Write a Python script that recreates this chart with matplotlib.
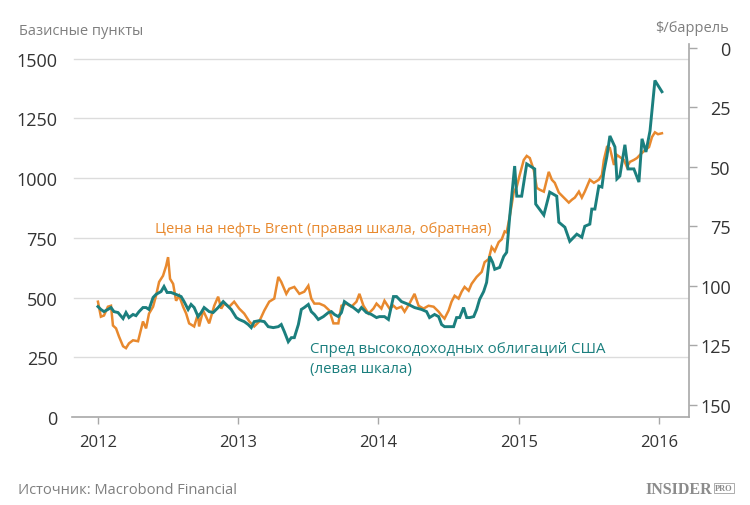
import matplotlib.pyplot as plt
from matplotlib.transforms import blended_transform_factory

plt.rcParams['font.family'] = ['Open Sans', 'DejaVu Sans']

# Brent, $/баррель (правая шкала, обратная)
brent_t = [2012.000, 2012.021, 2012.043, 2012.071, 2012.093, 2012.107, 2012.129, 2012.150, 2012.179, 2012.200,
           2012.221, 2012.250, 2012.286, 2012.321, 2012.343, 2012.364, 2012.393, 2012.414, 2012.436, 2012.464,
           2012.486, 2012.500, 2012.514, 2012.536, 2012.557, 2012.579, 2012.607, 2012.629, 2012.650, 2012.686,
           2012.714, 2012.721, 2012.750, 2012.793, 2012.829, 2012.857, 2012.879, 2012.900, 2012.936, 2012.971,
           2013.007, 2013.043, 2013.079, 2013.114, 2013.150, 2013.186, 2013.221, 2013.257, 2013.286, 2013.307,
           2013.343, 2013.364, 2013.400, 2013.436, 2013.471, 2013.500, 2013.521, 2013.543, 2013.579, 2013.614,
           2013.650, 2013.679, 2013.714, 2013.736, 2013.771, 2013.807, 2013.843, 2013.864, 2013.893, 2013.929,
           2013.964, 2013.986, 2014.021, 2014.043, 2014.079, 2014.107, 2014.129, 2014.164, 2014.186, 2014.221,
           2014.257, 2014.286, 2014.321, 2014.357, 2014.393, 2014.429, 2014.450, 2014.471, 2014.500, 2014.521,
           2014.543, 2014.571, 2014.593, 2014.614, 2014.643, 2014.664, 2014.700, 2014.736, 2014.757, 2014.786,
           2014.807, 2014.829, 2014.857, 2014.879, 2014.900, 2014.914, 2014.936, 2014.964, 2014.986, 2015.007,
           2015.036, 2015.057, 2015.079, 2015.107, 2015.129, 2015.150, 2015.179, 2015.200, 2015.214, 2015.236,
           2015.257, 2015.286, 2015.321, 2015.357, 2015.379, 2015.400, 2015.429, 2015.450, 2015.471, 2015.507,
           2015.536, 2015.571, 2015.593, 2015.607, 2015.629, 2015.650, 2015.679, 2015.700, 2015.721, 2015.750,
           2015.771, 2015.793, 2015.821, 2015.843, 2015.864, 2015.900, 2015.929, 2015.950, 2015.971, 2015.993,
           2016.021]
brent_usd = [106.7, 113.0, 112.5, 108.8, 108.4, 116.7, 117.9, 121.3, 125.4, 126.2,
             124.2, 122.9, 123.3, 115.0, 117.9, 111.7, 108.8, 104.2, 98.4, 95.8,
             91.7, 88.0, 97.1, 99.2, 106.3, 104.2, 108.8, 111.7, 115.8, 117.1,
             111.7, 117.1, 110.4, 115.8, 108.4, 104.6, 109.6, 107.5, 108.8, 106.7,
             109.6, 111.7, 115.0, 117.1, 115.0, 110.4, 106.7, 105.4, 96.3, 98.4,
             103.4, 101.3, 100.5, 103.4, 102.5, 100.0, 105.4, 107.5, 107.5, 108.4,
             110.4, 115.8, 115.8, 108.4, 107.5, 108.8, 106.7, 103.4, 108.4, 111.7,
             109.6, 107.5, 109.6, 106.3, 109.6, 108.4, 109.6, 108.8, 110.9, 107.5,
             103.4, 108.4, 109.6, 108.4, 108.8, 110.9, 112.5, 113.8, 110.4, 106.7,
             104.2, 105.4, 102.5, 100.5, 102.1, 99.2, 96.3, 94.2, 90.1, 88.8,
             83.8, 85.5, 81.7, 80.5, 77.2, 77.6, 70.9, 60.9, 58.4, 53.5,
             47.2, 45.5, 46.4, 51.4, 58.9, 59.7, 60.5, 55.5, 52.2, 55.5,
             56.8, 60.9, 63.0, 65.1, 63.9, 63.0, 60.5, 63.0, 60.5, 55.5,
             56.8, 55.5, 53.5, 47.2, 41.8, 42.2, 49.3, 45.1, 46.0, 47.2,
             50.1, 48.0, 47.2, 46.4, 45.1, 43.1, 41.8, 37.6, 35.6, 36.4,
             36.0]

# Спред высокодоходных облигаций США, б.п. (левая шкала)
spread_t = [2012.000, 2012.021, 2012.043, 2012.071, 2012.093, 2012.114, 2012.143, 2012.179, 2012.200, 2012.221,
            2012.250, 2012.271, 2012.293, 2012.321, 2012.343, 2012.364, 2012.393, 2012.414, 2012.450, 2012.471,
            2012.493, 2012.521, 2012.557, 2012.593, 2012.614, 2012.643, 2012.664, 2012.686, 2012.714, 2012.736,
            2012.757, 2012.793, 2012.821, 2012.857, 2012.893, 2012.914, 2012.950, 2012.986, 2013.007, 2013.043,
            2013.071, 2013.093, 2013.114, 2013.150, 2013.186, 2013.214, 2013.250, 2013.286, 2013.307, 2013.329,
            2013.357, 2013.379, 2013.400, 2013.429, 2013.450, 2013.471, 2013.500, 2013.521, 2013.543, 2013.571,
            2013.607, 2013.643, 2013.664, 2013.686, 2013.714, 2013.736, 2013.757, 2013.786, 2013.821, 2013.857,
            2013.879, 2013.914, 2013.950, 2013.986, 2014.007, 2014.043, 2014.071, 2014.107, 2014.129, 2014.164,
            2014.214, 2014.257, 2014.307, 2014.343, 2014.364, 2014.400, 2014.429, 2014.450, 2014.471, 2014.507,
            2014.536, 2014.557, 2014.579, 2014.607, 2014.629, 2014.650, 2014.679, 2014.700, 2014.721, 2014.750,
            2014.771, 2014.793, 2014.814, 2014.829, 2014.864, 2014.893, 2014.914, 2014.936, 2014.971, 2014.986,
            2015.021, 2015.057, 2015.093, 2015.114, 2015.121, 2015.179, 2015.221, 2015.271, 2015.286, 2015.329,
            2015.364, 2015.414, 2015.450, 2015.471, 2015.507, 2015.521, 2015.543, 2015.571, 2015.593, 2015.607,
            2015.629, 2015.650, 2015.686, 2015.700, 2015.721, 2015.757, 2015.779, 2015.821, 2015.857, 2015.879,
            2015.907, 2015.936, 2015.971, 2016.021]
spread_bp = [462, 450, 441, 450, 458, 441, 437, 412, 437, 416,
             429, 424, 441, 458, 458, 450, 500, 513, 525, 546,
             521, 521, 513, 504, 483, 450, 471, 458, 420, 437,
             458, 441, 437, 458, 483, 471, 450, 416, 408, 399,
             387, 374, 399, 403, 399, 378, 374, 378, 387, 357,
             315, 332, 332, 387, 450, 458, 471, 441, 429, 408,
             420, 437, 441, 429, 420, 437, 483, 471, 458, 441,
             458, 437, 429, 416, 420, 420, 408, 504, 504, 483,
             471, 458, 450, 441, 416, 429, 420, 387, 378, 378,
             378, 416, 416, 458, 416, 416, 420, 450, 492, 525,
             563, 672, 647, 618, 626, 672, 689, 840, 1050, 924,
             924, 1059, 1046, 1038, 891, 845, 941, 924, 815, 794,
             735, 765, 752, 798, 807, 870, 870, 966, 962, 1025,
             1092, 1176, 1130, 996, 1008, 1139, 1038, 1038, 983, 1164,
             1109, 1197, 1408, 1361]

years = [2012, 2013, 2014, 2015, 2016]
left_ticks = [0, 250, 500, 750, 1000, 1250, 1500]
right_ticks = [0, 25, 50, 75, 100, 125, 150]

orange = '#E8892E'
teal = '#1B7F7E'
axis_grey = '#A8A8A8'
grid_grey = '#DCDCDC'
label_grey = '#7F7F7F'
tick_txt = '#333333'

W, H = 750, 506
fig = plt.figure(figsize=(W / 100, H / 100), dpi=100)

# оси: левая шкала (спред) сверху, правая (Brent) снизу
ax = fig.add_axes([72 / W, 1 - 418 / H, (689 - 72) / W, (418 - 45) / H])
ax2 = ax.twinx()
ax.set_zorder(2)
ax2.set_zorder(1)
ax.patch.set_visible(False)

# сетка по левой шкале, но под линиями
grid_trans = blended_transform_factory(ax2.transAxes, ax.transData)
for v in left_ticks[1:]:
    ax2.plot([0.003, 1], [v, v], color=grid_grey, lw=1, transform=grid_trans, zorder=0)

ax2.plot(brent_t, brent_usd, color=orange, lw=1.8, solid_joinstyle='miter')
ax.plot(spread_t, spread_bp, color=teal, lw=2.1, solid_joinstyle='miter')

ax.set_xlim(2011.815, 2016.214)
ax.set_ylim(0, 1560.7)
ax2.set_ylim(155.1, -1.47)

ax.set_xticks(years)
ax.set_xticklabels([str(y) for y in years])
ax.set_yticks(left_ticks)
ax.set_yticklabels([str(v) for v in left_ticks])
ax2.set_yticks(right_ticks)
ax2.set_yticklabels([str(v) for v in right_ticks])

for s in ['left', 'top', 'right']:
    ax.spines[s].set_visible(False)
for s in ['left', 'top', 'bottom']:
    ax2.spines[s].set_visible(False)
ax.spines['bottom'].set_color(axis_grey)
ax.spines['bottom'].set_linewidth(1.2)
ax2.spines['right'].set_color(axis_grey)
ax2.spines['right'].set_linewidth(1.2)

ax.tick_params(axis='y', length=0, pad=10.5, labelsize=13, labelcolor=tick_txt)
ax.tick_params(axis='x', length=5, width=1, color=axis_grey, pad=7.5, labelsize=12, labelcolor=tick_txt)
ax2.tick_params(axis='y', length=6, width=1, color=axis_grey, pad=24, labelsize=13, labelcolor=tick_txt)
for lbl in ax2.get_yticklabels():
    lbl.set_horizontalalignment('right')

def px(x, y):
    return x / W, 1 - y / H

# подписи осей
fig.text(*px(19, 35), 'Базисные пункты', fontsize=10.5, color=label_grey, va='baseline')
fig.text(*px(729, 32), '$/баррель', fontsize=10.5, color=label_grey, va='baseline', ha='right')

# подписи рядов
fig.text(*px(155, 233), 'Цена на нефть Brent (правая шкала, обратная)', fontsize=10.6,
         color=orange, va='baseline')
fig.text(*px(310, 353), 'Спред высокодоходных облигаций США', fontsize=10.8,
         color=teal, va='baseline')
fig.text(*px(310, 373), '(левая шкала)', fontsize=10.8, color=teal, va='baseline')

# источник и логотип
fig.text(*px(18, 494), 'Источник: Macrobond Financial', fontsize=10.5, color=label_grey, va='baseline')
fig.text(*px(712, 494), 'INSIDER', fontsize=11.5, color='#8C8C8C', va='baseline', ha='right',
         family='Liberation Serif', weight='bold')
fig.text(*px(715, 491), 'PRO', fontsize=6, color='#8C8C8C', va='baseline',
         family='Liberation Serif', weight='bold',
         bbox=dict(boxstyle='square,pad=0.15', fc='none', ec='#A0A0A0', lw=0.6))

fig.savefig('out.png', dpi=100)
